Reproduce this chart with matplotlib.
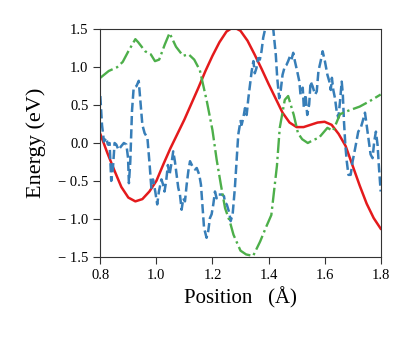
import numpy as np
import matplotlib
matplotlib.use('Agg')
import matplotlib.pyplot as plt

plt.rcParams['font.family'] = ['Liberation Serif', 'DejaVu Serif']
plt.rcParams['mathtext.fontset'] = 'stix'

# red curve
red_x = [0.8, 0.825, 0.85, 0.875, 0.9, 0.925, 0.95, 0.975, 1.0, 1.025, 1.05, 1.075,
         1.1, 1.125, 1.15, 1.175, 1.2, 1.225, 1.25, 1.275, 1.3, 1.325, 1.35, 1.375,
         1.4, 1.425, 1.45, 1.475, 1.5, 1.525, 1.55, 1.575, 1.6, 1.625, 1.65, 1.675,
         1.7, 1.725, 1.75, 1.775, 1.8]
red_y = [0.12, -0.13, -0.36, -0.58, -0.72, -0.77, -0.74, -0.64, -0.50, -0.28, -0.07, 0.12,
         0.31, 0.52, 0.73, 0.95, 1.15, 1.33, 1.47, 1.53, 1.48, 1.35, 1.17, 0.98,
         0.78, 0.59, 0.40, 0.27, 0.21, 0.21, 0.24, 0.27, 0.28, 0.24, 0.12, -0.04,
         -0.30, -0.56, -0.80, -0.99, -1.13]

# green dash-dot
green_x = [0.80, 0.83, 0.86, 0.88, 0.90, 0.925, 0.935, 0.96, 0.98, 0.995, 1.01, 1.03,
           1.047, 1.07, 1.095, 1.115, 1.135, 1.155, 1.18, 1.20, 1.215, 1.23, 1.245,
           1.263, 1.275, 1.30, 1.32, 1.345, 1.37, 1.39, 1.41, 1.43, 1.44, 1.458, 1.47,
           1.49, 1.505, 1.52, 1.54, 1.56, 1.58, 1.61, 1.63, 1.655, 1.68, 1.725, 1.76, 1.8]
green_y = [0.86, 0.95, 1.00, 1.07, 1.21, 1.37, 1.33, 1.21, 1.17, 1.08, 1.10, 1.30,
           1.45, 1.27, 1.15, 1.17, 1.10, 0.96, 0.55, 0.17, -0.22, -0.55, -0.86,
           -1.05, -1.21, -1.42, -1.47, -1.49, -1.30, -1.12, -0.95, -0.30, 0.20, 0.57, 0.62,
           0.37, 0.13, 0.05, 0.00, 0.04, 0.07, 0.20, 0.16, 0.38, 0.42, 0.48, 0.55, 0.64]

# blue dashed
blue_x = [0.800, 0.806, 0.813, 0.821, 0.827, 0.833, 0.839, 0.845, 0.851, 0.857, 0.865,
          0.875, 0.884, 0.893, 0.899, 0.902, 0.907, 0.913, 0.919, 0.929, 0.937, 0.941,
          0.950, 0.958, 0.968, 0.976, 0.982, 0.988, 0.996, 1.003, 1.009, 1.018, 1.024,
          1.029, 1.035, 1.041, 1.047, 1.055, 1.060, 1.066, 1.072, 1.078, 1.084, 1.090,
          1.096, 1.102, 1.108, 1.114, 1.120, 1.129, 1.138, 1.144, 1.153, 1.159, 1.164,
          1.170, 1.179, 1.185, 1.191, 1.197, 1.203, 1.209, 1.215, 1.221, 1.233, 1.241,
          1.245, 1.251, 1.260, 1.265, 1.272, 1.280, 1.286, 1.292, 1.300, 1.304, 1.310,
          1.316, 1.322, 1.328, 1.334, 1.340, 1.346, 1.351, 1.357, 1.363, 1.369, 1.375,
          1.381, 1.395, 1.405, 1.417, 1.426, 1.431, 1.438, 1.443, 1.450, 1.458, 1.464,
          1.470, 1.476, 1.482, 1.488, 1.494, 1.502, 1.510, 1.514, 1.522, 1.526, 1.532,
          1.538, 1.545, 1.550, 1.557, 1.566, 1.572, 1.578, 1.586, 1.593, 1.601, 1.610,
          1.617, 1.622, 1.626, 1.631, 1.637, 1.643, 1.649, 1.655, 1.661, 1.665, 1.669,
          1.674, 1.679, 1.685, 1.693, 1.700, 1.709, 1.720, 1.729, 1.736, 1.744, 1.750,
          1.756, 1.764, 1.771, 1.777, 1.783, 1.789, 1.794, 1.800]
blue_y = [0.62, 0.24, 0.02, 0.07, -0.02, 0.00, -0.50, -0.33, 0.00, -0.02, -0.09,
          -0.04, 0.00, -0.02, -0.20, -0.53, -0.24, 0.42, 0.73, 0.75, 0.82, 0.64,
          0.24, 0.13, 0.07, -0.29, -0.59, -0.48, -0.64, -0.81, -0.64, -0.48, -0.55,
          -0.64, -0.50, -0.29, -0.42, -0.24, -0.11, -0.24, -0.42, -0.59, -0.68, -0.88,
          -0.73, -0.77, -0.55, -0.37, -0.24, -0.31, -0.35, -0.33, -0.42, -0.55, -0.81,
          -1.12, -1.25, -1.16, -0.99, -0.94, -0.81, -0.64, -0.73, -0.68, -0.68, -0.70,
          -0.79, -0.81, -0.92, -1.03, -0.94, -0.59, -0.24, 0.11, 0.29, 0.24, 0.33,
          0.46, 0.37, 0.59, 0.77, 0.95, 1.08, 0.92, 0.99, 1.12, 1.10, 1.21,
          1.39, 1.62, 1.70, 1.50, 1.16, 0.86, 0.59, 0.68, 0.90, 1.01, 1.03,
          1.08, 1.14, 1.10, 1.19, 1.08, 0.95, 0.81, 0.64, 0.73, 0.46, 0.64,
          0.37, 0.51, 0.81, 0.75, 0.64, 0.68, 0.95, 1.08, 1.21, 1.08, 0.90,
          0.81, 0.70, 0.86, 0.70, 0.59, 0.42, 0.33, 0.55, 0.81, 0.64, 0.29,
          -0.03, -0.24, -0.42, -0.42, -0.24, -0.07, 0.15, 0.20, 0.29, 0.40, 0.24,
          0.07, -0.15, -0.20, 0.02, 0.15, -0.03, -0.33, -0.64]

fig = plt.figure(figsize=(4.15, 3.38), dpi=100)
ax = fig.add_axes([0.2417, 0.2405, 0.6756, 0.6728])

ax.plot(red_x, red_y, color='#e41a1c', lw=1.8)
ax.plot(blue_x, blue_y, color='#377eb8', lw=1.8, ls='--')
ax.plot(green_x, green_y, color='#4daf4a', lw=1.7, ls='-.')

ax.set_xlim(0.8, 1.8)
ax.set_ylim(-1.5, 1.5)
ax.set_xticks([0.8, 1.0, 1.2, 1.4, 1.6, 1.8])
ax.set_yticks([-1.5, -1.0, -0.5, 0.0, 0.5, 1.0, 1.5])
ax.set_xticklabels(['0.8', '1.0', '1.2', '1.4', '1.6', '1.8'])
ax.set_yticklabels(['\u2212 1.5', '\u2212 1.0', '\u2212 0.5', '0.0', '0.5', '1.0', '1.5'])
ax.tick_params(labelsize=10.5, length=5, color='#333333')
for s in ax.spines.values():
    s.set_color('#333333')

ax.set_xlabel('Position   (\u00c5)', fontsize=15)
ax.set_ylabel('Energy (eV)', fontsize=16)
ax.yaxis.set_label_coords(-0.194, 0.5)

fig.savefig('out.png', dpi=100)
